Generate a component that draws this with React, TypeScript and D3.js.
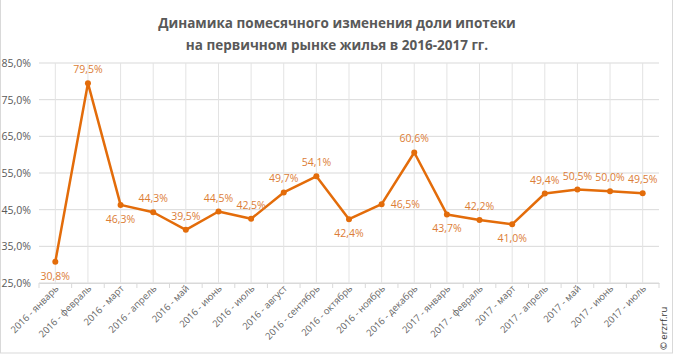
import React, { useEffect, useRef } from 'react'
import * as d3 from 'd3'

const months = [
  '2016 - январь', '2016 - февраль', '2016 - март', '2016 - апрель', '2016 - май',
  '2016 - июнь', '2016 - июль', '2016 - август', '2016 - сентябрь', '2016 - октябрь',
  '2016 - ноябрь', '2016 - декабрь', '2017 - январь', '2017 - февраль', '2017 - март',
  '2017 - апрель', '2017 - май', '2017 - июнь', '2017 - июль',
]
const shares = [30.8, 79.5, 46.3, 44.3, 39.5, 44.5, 42.5, 49.7, 54.1, 42.4, 46.5, 60.6, 43.7, 42.2, 41.0, 49.4, 50.5, 50.0, 49.5]
// where each value label sits relative to its point
const labelPos = ['below', 'above', 'below', 'above', 'above', 'above', 'above', 'above', 'above', 'below',
  'right', 'above', 'below', 'above', 'below', 'above', 'above', 'above', 'above']
const yTicks = [25, 35, 45, 55, 65, 75, 85]

const W = 677
const H = 360
const fmt = (v: number) => v.toFixed(1).replace('.', ',') + '%'

export default function App() {
  const ref = useRef<SVGSVGElement>(null)

  useEffect(() => {
    const svg = d3.select(ref.current)
    svg.selectAll('*').remove()

    const left = 39
    const right = 659
    const top = 63
    const bottom = 283

    const x = d3.scaleBand().domain(months).range([left, right])
    const y = d3.scaleLinear().domain([25, 85]).range([bottom, top])
    const cx = (m: string) => x(m)! + x.bandwidth() / 2

    svg.append('rect')
      .attr('x', 0.5).attr('y', -1).attr('width', 672).attr('height', 354)
      .attr('fill', '#fff').attr('stroke', '#d9d9d9')

    // title
    const title = svg.append('text')
      .attr('text-anchor', 'middle')
      .attr('font-family', 'Open Sans')
      .attr('font-weight', 'bold')
      .attr('font-size', 13.5)
      .attr('fill', '#595959')
    title.append('tspan').attr('x', 337).attr('y', 28).text('Динамика помесячного изменения доли ипотеки')
    title.append('tspan').attr('x', 337).attr('y', 50).text('на первичном рынке жилья в 2016-2017 гг.')

    // horizontal grid
    svg.append('g')
      .selectAll('line')
      .data(yTicks)
      .enter()
      .append('line')
      .attr('x1', left).attr('x2', right)
      .attr('y1', (d) => y(d)).attr('y2', (d) => y(d))
      .attr('stroke', '#d9d9d9')

    // vertical grid through points
    svg.append('g')
      .selectAll('line')
      .data(months)
      .enter()
      .append('line')
      .attr('x1', (d) => cx(d)).attr('x2', (d) => cx(d))
      .attr('y1', top).attr('y2', bottom)
      .attr('stroke', '#e3e3e3')

    // y labels
    svg.append('g')
      .selectAll('text')
      .data(yTicks)
      .enter()
      .append('text')
      .attr('x', 31)
      .attr('y', (d) => y(d) + 4)
      .attr('text-anchor', 'end')
      .attr('font-family', 'Open Sans')
      .attr('font-size', 10.5)
      .attr('fill', '#595959')
      .text((d) => fmt(d))

    // x axis
    const xAxis = svg.append('g')
      .attr('transform', `translate(0,${bottom})`)
      .call(d3.axisBottom(x).tickSize(0).tickFormat(() => ''))
    xAxis.select('.domain').attr('stroke', '#d9d9d9')
    svg.append('g')
      .selectAll('line')
      .data(months.concat(['__end']))
      .enter()
      .append('line')
      .attr('x1', (d, i) => left + i * x.bandwidth())
      .attr('x2', (d, i) => left + i * x.bandwidth())
      .attr('y1', bottom).attr('y2', bottom + 5)
      .attr('stroke', '#d9d9d9')

    svg.append('g')
      .selectAll('text')
      .data(months)
      .enter()
      .append('text')
      .attr('transform', (d) => `translate(${cx(d) + 4},${bottom + 6}) rotate(-45)`)
      .attr('text-anchor', 'end')
      .attr('font-family', 'Open Sans')
      .attr('font-size', 9.5)
      .attr('fill', '#666')
      .text((d) => d)

    // line
    const line = d3.line<number>()
      .x((d, i) => cx(months[i]))
      .y((d) => y(d))
    svg.append('path')
      .datum(shares)
      .attr('d', line)
      .attr('fill', 'none')
      .attr('stroke', '#e36c0a')
      .attr('stroke-width', 2.5)
      .attr('stroke-linejoin', 'round')

    svg.append('g')
      .selectAll('circle')
      .data(shares)
      .enter()
      .append('circle')
      .attr('cx', (d, i) => cx(months[i]))
      .attr('cy', (d) => y(d))
      .attr('r', 3)
      .attr('fill', '#e36c0a')

    // value labels
    svg.append('g')
      .selectAll('text')
      .data(shares)
      .enter()
      .append('text')
      .attr('x', (d, i) => cx(months[i]) + (labelPos[i] === 'right' ? 9 : 0))
      .attr('y', (d, i) => {
        const p = labelPos[i]
        if (p === 'above') return y(d) - 10
        if (p === 'below') return y(d) + 18
        return y(d) + 4
      })
      .attr('text-anchor', (d, i) => (labelPos[i] === 'right' ? 'start' : 'middle'))
      .attr('font-family', 'Open Sans')
      .attr('font-size', 10.5)
      .attr('fill', '#dc7d36')
      .text((d) => fmt(d))

    svg.append('text')
      .attr('transform', 'translate(667,350) rotate(-90)')
      .attr('font-family', 'Open Sans')
      .attr('font-size', 9.5)
      .attr('fill', '#333')
      .text('© erzrf.ru')
  }, [])

  return (
    <div style={{ position: 'absolute', left: 0, top: 0 }}>
      <svg ref={ref} width={W} height={H} style={{ display: 'block' }} />
    </div>
  )
}
